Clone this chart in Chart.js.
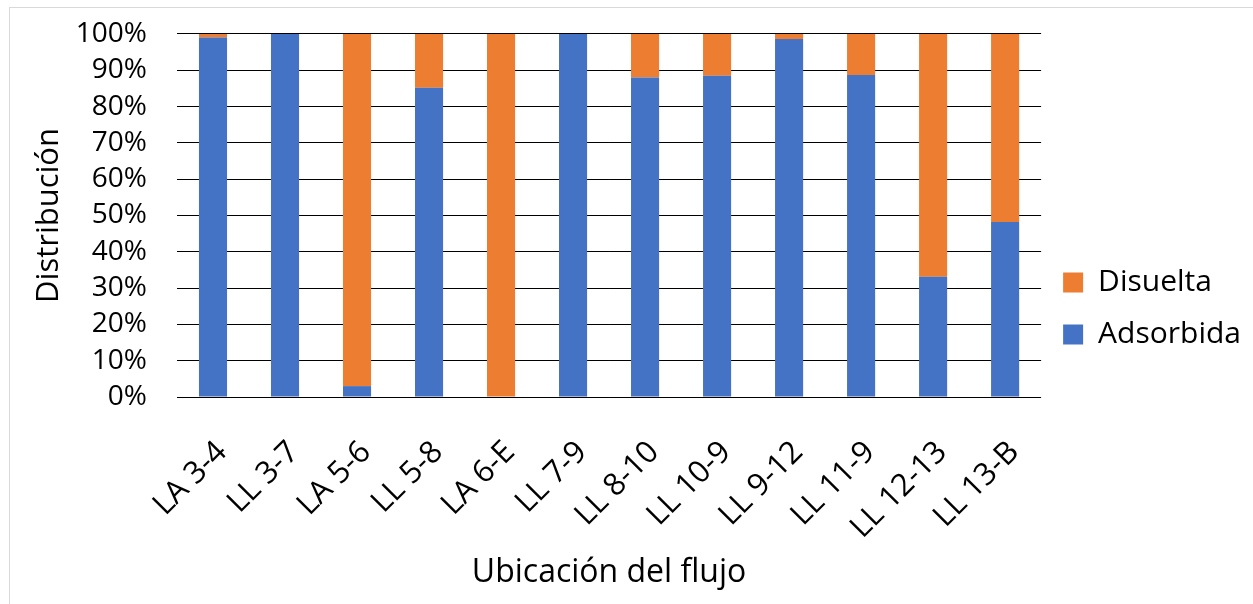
<!DOCTYPE html>
<html>
<head>
<meta charset="utf-8">
<script src="https://cdn.jsdelivr.net/npm/chart.js@4"></script>
<style>
  html, body { margin: 0; padding: 0; background: #fff; overflow: hidden; }
  #wrap { position: relative; width: 1253px; height: 604px; }
  #frame { position: absolute; left: 9px; top: 7px; width: 1300px; height: 700px;
           border-left: 1px solid #d9d9d9; border-top: 1px solid #d9d9d9; }
  canvas { position: absolute; left: 0; top: 0; }
</style>
</head>
<body>
<div id="wrap">
  <div id="frame"></div>
  <canvas id="myChart" width="1253" height="604"></canvas>
</div>
<script>
// categories
var categories = ["LA 3-4", "LL 3-7", "LA 5-6", "LL 5-8", "LA 6-E", "LL 7-9",
                  "LL 8-10", "LL 10-9", "LL 9-12", "LL 11-9", "LL 12-13", "LL 13-B"];

// share of each flow, in percent
var adsorbida = [99, 100, 3, 85.2, 0, 100, 88, 88.5, 98.6, 88.7, 33.1, 48.2];
var disuelta  = [1, 0, 97, 14.8, 100, 0, 12, 11.5, 1.4, 11.3, 66.9, 51.8];

// y tick values
var yTicks = [0, 10, 20, 30, 40, 50, 60, 70, 80, 90, 100];

var blue = "#4472C4";
var orange = "#ED7D31";
var font = "'Open Sans', 'Noto Sans', sans-serif";

var data = {
    labels: categories,
    datasets: [
        {
            label: "Adsorbida",
            data: adsorbida,
            backgroundColor: blue,
            borderWidth: 0
        },
        {
            label: "Disuelta",
            data: disuelta,
            backgroundColor: orange,
            borderWidth: 0
        }
    ]
};

var options = {
    responsive: false,
    animation: false,
    layout: {
        padding: { left: 10, top: 23, right: 2, bottom: 10 }
    },
    datasets: {
        bar: { categoryPercentage: 1, barPercentage: 0.39 }
    },
    plugins: {
        tooltip: { enabled: false },
        legend: {
            position: "right",
            reverse: true,
            labels: {
                boxWidth: 20,
                boxHeight: 20,
                padding: 22,
                color: "#000",
                font: { family: font, size: 30 }
            }
        }
    },
    scales: {
        x: {
            stacked: true,
            grid: { display: false },
            border: { display: false },
            ticks: {
                color: "#000",
                minRotation: 45,
                maxRotation: 45,
                autoSkip: false,
                padding: 29,
                labelOffset: 9,
                font: { family: font, size: 31 }
            },
            title: {
                display: true,
                text: "Ubicación del flujo",
                color: "#000",
                padding: { top: 0, bottom: 2 },
                font: { family: font, size: 32 }
            },
            afterFit: function(scale) { scale.height = 197; }
        },
        y: {
            stacked: true,
            min: 0,
            max: 100,
            afterBuildTicks: function(scale) {
                scale.ticks = yTicks.map(function(v) { return { value: v }; });
            },
            grid: { color: "#000", lineWidth: 1, drawTicks: false },
            border: { display: false },
            ticks: {
                color: "#000",
                padding: 30,
                autoSkip: false,
                // small line height so the top label does not push the plot down
                font: { family: font, size: 28, lineHeight: 0.28 },
                callback: function(v) { return v + "%"; }
            },
            title: {
                display: true,
                text: "Distribución",
                color: "#000",
                padding: { top: 21, bottom: 0 },
                font: { family: font, size: 31 }
            },
            afterFit: function(scale) { scale.width = 167; }
        }
    }
};

var ctx = document.getElementById("myChart");
var myChart = new Chart(ctx, {
    type: "bar",
    data: data,
    options: options
});
</script>
</body>
</html>
